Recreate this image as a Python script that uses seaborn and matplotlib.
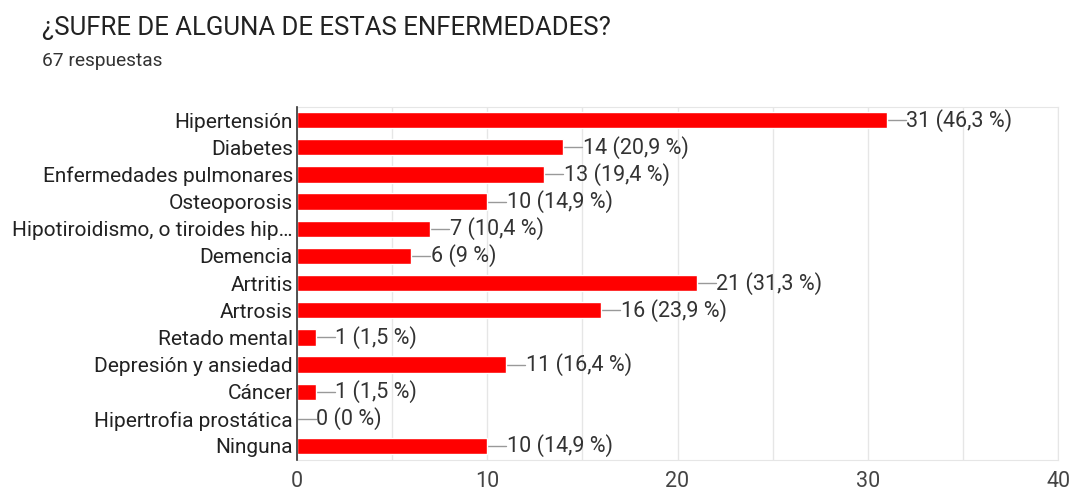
import matplotlib
matplotlib.use("Agg")
import matplotlib.pyplot as plt
import seaborn as sns
import pandas as pd
import numpy as np

categorias = ["Hipertensión", "Diabetes", "Enfermedades pulmonares", "Osteoporosis",
              "Hipotiroidismo, o tiroides hip…", "Demencia", "Artritis", "Artrosis",
              "Retado mental", "Depresión y ansiedad", "Cáncer",
              "Hipertrofia prostática", "Ninguna"]
respuestas = [31, 14, 13, 10, 7, 6, 21, 16, 1, 11, 1, 0, 10]
porcentajes = ["46,3", "20,9", "19,4", "14,9", "10,4", "9", "31,3", "23,9",
               "1,5", "16,4", "1,5", "0", "14,9"]
total = 67

sns.set_style("white")
plt.rcParams['font.family'] = ['Roboto', 'DejaVu Sans']

df = pd.DataFrame({"cat": categorias, "n": respuestas})

fig = plt.figure(figsize=(10.72, 4.91), dpi=100)
ax = fig.add_axes([0.277, 0.064, 0.71, 0.719])

sns.barplot(data=df, x="n", y="cat", orient="h", color="#ff0000",
            saturation=1, width=0.6, ax=ax, zorder=3)

# leader line + label
for i, (v, p) in enumerate(zip(respuestas, porcentajes)):
    ax.plot([v, v + 1], [i, i], color="#999999", lw=1, zorder=2)
    ax.text(v + 1.02, i, f"{v} ({p} %)", va="center", ha="left",
            fontsize=15.5, color="#333333")

ax.set_xlim(0, 40)
ax.set_ylim(len(categorias) - 0.5, -0.5)
ax.set_xticks(np.arange(0, 41, 10))
ax.set_xticks(np.arange(0, 41, 5), minor=True)
ax.grid(axis="x", which="both", color="#e6e6e6", lw=1, zorder=0)
ax.set_axisbelow(True)
ax.set_xlabel("")
ax.set_ylabel("")
ax.tick_params(axis="x", which="both", length=0, labelsize=15.5,
               labelcolor="#444444", pad=8)
ax.tick_params(axis="y", length=0, labelsize=15, labelcolor="#222222", pad=3)

for s in ["top", "right", "bottom"]:
    ax.spines[s].set_color("#e6e6e6")
ax.spines["left"].set_color("#333333")
ax.spines["left"].set_linewidth(1.2)
ax.spines["left"].set_zorder(4)

fig.text(0.039, 0.943, "¿SUFRE DE ALGUNA DE ESTAS ENFERMEDADES?", fontsize=18.5,
         color="#222222", va="center", ha="left")
fig.text(0.039, 0.876, f"{total} respuestas", fontsize=13.8, color="#333333",
         va="center", ha="left")

fig.savefig("out.png", dpi=100)
